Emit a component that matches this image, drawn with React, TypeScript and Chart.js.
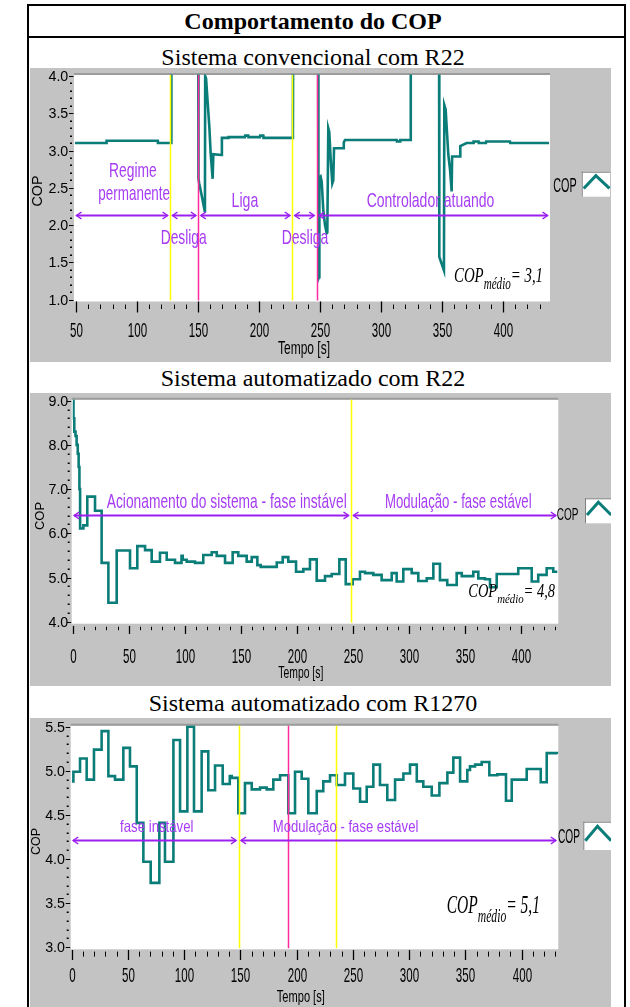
import React, { useEffect, useRef } from "react";
import { Chart, registerables } from "chart.js";

Chart.register(...registerables);

// ---------------- data ----------------
// Sistema convencional com R22 (values above 4.0 leave the plotted range)
const convTime = [49.2, 75, 75.1, 117, 117.2, 128, 128.2, 150.2, 150.4, 151.1, 153.0, 155.7, 155.9, 156.6, 157.6, 159.3, 160.4, 162.0, 162.6, 169.4, 169.6, 174.8, 175.0, 188.5, 188.7, 191.2, 191.4, 200.8, 201.0, 203.5, 203.7, 227.8, 228.0, 248.5, 248.7, 249.2, 249.5, 250.5, 251.4, 252.7, 254.1, 255.5, 256.0, 256.8, 257.6, 258.8, 260.1, 260.9, 261.5, 269.1, 269.5, 270.5, 312.9, 313.1, 315.6, 315.8, 324.2, 324.4, 347.6, 347.8, 351.6, 351.9, 353.0, 353.8, 355.2, 356.6, 357.9, 358.3, 364.8, 365.0, 370.2, 375.7, 375.9, 380.0, 380.2, 386.0, 386.2, 405.7, 405.9, 437.7];
const convCop = [3.10, 3.10, 3.13, 3.13, 3.10, 3.10, 4.5, 4.5, 2.62, 2.55, 2.40, 2.17, 4.0, 3.97, 3.73, 3.32, 2.96, 2.62, 2.95, 2.94, 3.17, 3.17, 3.18, 3.18, 3.20, 3.20, 3.18, 3.18, 3.20, 3.20, 3.17, 3.17, 4.5, 4.5, 1.28, 1.30, 2.63, 2.65, 2.58, 2.20, 2.00, 1.89, 1.90, 3.30, 3.25, 2.87, 2.56, 2.60, 3.03, 3.03, 3.11, 3.14, 3.14, 3.12, 3.12, 3.14, 3.14, 4.5, 4.5, 1.57, 1.39, 3.61, 3.55, 3.32, 2.94, 2.74, 2.45, 2.92, 2.92, 3.06, 3.10, 3.10, 3.12, 3.12, 3.10, 3.10, 3.12, 3.12, 3.10, 3.10];

// Sistema automatizado com R22 (step values: each holds until the next time)
const r22Time = [0, 0.7, 1.4, 2.5, 3.5, 4.5, 5.3, 6.0, 6.6, 9.5, 13.0, 19.9, 25.8, 31.8, 39.2, 51.1, 57.6, 64.5, 70.4, 77.8, 83.8, 91.2, 97.0, 98.1, 101.6, 109.0, 116.4, 123.9, 128.4, 135.8, 142.6, 147.6, 155.1, 159.6, 164.6, 167.6, 181.9, 187.2, 192.2, 199.1, 205.6, 211.5, 217.5, 224.9, 230.9, 237.7, 243.4, 249.6, 256.1, 260.6, 268.0, 275.4, 284.4, 288.8, 294.7, 302.2, 308.1, 315.6, 321.5, 327.4, 333.9, 342.3, 346.8, 357.1, 361.6, 367.5, 372.0, 378.0, 397.2, 409.2, 415.0, 422.5, 428.4, 432];
const r22Cop = [9.0, 8.6, 8.3, 8.2, 8.0, 7.8, 7.5, 7.0, 6.11, 6.18, 6.83, 6.51, 5.33, 4.43, 5.61, 5.21, 5.71, 5.62, 5.36, 5.56, 5.40, 5.33, 5.49, 5.40, 5.36, 5.33, 5.51, 5.57, 5.49, 5.33, 5.57, 5.49, 5.36, 5.46, 5.28, 5.24, 5.34, 5.46, 5.36, 5.13, 5.19, 5.41, 4.93, 5.03, 5.08, 5.41, 4.85, 4.96, 5.13, 5.10, 5.06, 4.94, 5.10, 4.91, 5.19, 5.10, 4.92, 4.98, 5.31, 4.94, 4.83, 5.10, 5.03, 5.13, 4.98, 4.96, 4.78, 5.08, 5.21, 4.91, 5.06, 5.21, 5.13, 5.13];

// Sistema automatizado com R1270 (step values)
const r1270Time = [0, 1.5, 7.4, 13.3, 19.8, 26.6, 32.6, 38.5, 45.9, 51.8, 57.8, 63.7, 70.2, 77.9, 82.9, 90.4, 96.3, 102.8, 108.7, 115.5, 121.4, 127.4, 134.2, 140.5, 142.2, 148.1, 154.0, 160.0, 167.4, 173.3, 179.2, 185.2, 192.5, 198.5, 204.4, 210.3, 217.8, 223.6, 229.6, 235.6, 242.9, 250.3, 256.3, 262.2, 268.1, 274.0, 280.5, 287.4, 294.8, 300.7, 306.7, 312.5, 320.0, 326.8, 333.9, 339.2, 345.2, 351.6, 354.0, 358.5, 364.4, 371.2, 378.3, 386.0, 391.1, 404.4, 416.9, 422.2, 431.6];
const r1270Cop = [4.88, 4.99, 5.14, 4.90, 5.24, 5.45, 4.94, 4.90, 5.26, 5.05, 4.41, 3.97, 3.73, 4.41, 3.97, 5.35, 4.54, 5.50, 4.54, 5.22, 4.78, 5.06, 4.85, 4.94, 4.92, 4.52, 4.86, 4.79, 4.81, 4.79, 4.90, 4.95, 4.52, 4.99, 4.91, 4.52, 4.77, 4.88, 4.95, 4.84, 4.97, 4.80, 4.65, 4.82, 5.07, 4.84, 4.67, 4.90, 4.97, 5.07, 4.88, 4.82, 4.72, 4.86, 4.98, 5.15, 4.88, 5.01, 5.05, 5.07, 5.10, 4.95, 4.96, 4.66, 4.90, 5.02, 4.87, 5.20, 5.19];

const convXTicks = [50, 100, 150, 200, 250, 300, 350, 400];
const convYTicks = [1.0, 1.5, 2.0, 2.5, 3.0, 3.5, 4.0];
const autoXTicks = [0, 50, 100, 150, 200, 250, 300, 350, 400];
const r22YTicks = [4, 5, 6, 7, 8, 9];
const r1270YTicks = [3.0, 3.5, 4.0, 4.5, 5.0, 5.5];

const convYellow = [127.1, 227.3];
const convMagenta = [150.3, 247.3];
const r22Yellow = [248.1];
const r1270Yellow = [148.3, 235.3];
const r1270Magenta = [192.5];

const convPhases = ["Regime", "permanente", "Desliga", "Liga", "Desliga", "Controlador atuando"];
const r22Phases = ["Acionamento do sistema - fase instável", "Modulação - fase estável"];
const r1270Phases = ["fase instável", "Modulação - fase estável"];

const copMedio = ["3,1", "4,8", "5,1"];
const titleText = "Comportamento do COP";
const subtitles = ["Sistema convencional com R22", "Sistema automatizado com R22", "Sistema automatizado com R1270"];

// ---------------- styles ----------------
const GRAY = "#c3c3c3";
const TEAL = "#0b7d79";
const YELLOW = "#ffff00";
const MAGENTA = "#ff2b9c";
const VIOLET = "#9b1ff0";
const VIOLET_TXT = "#a63cf4";
const SANS = '"Liberation Sans", Arial, sans-serif';
const SERIF = '"Liberation Serif", "Times New Roman", serif';

type Lbl = { text: string; t: number; c: number; w: number };
type PanelCfg = {
  key: string;
  canvas: { left: number; top: number; w: number; h: number };
  area: { l: number; t: number; r: number; b: number };
  xMin: number; xMax: number; yMin: number; yMax: number;
  xTicks: number[]; yTicks: number[]; xMinor: number; yMinor: number;
  time: number[]; cop: number[]; stepped: boolean;
  yLabelRight: number;
  xMajor: [number, number]; xMinorLen: [number, number]; xLabelBase: number;
  tempo: { cx: number; base: number; size: number; w: number };
  copTitle: { cx: number; cy: number; size: number; w: number };
  legend: { tx: number; tw: number; base: number; size: number; bx: number; by: number; bw: number; bh: number };
  medio: { x: number; base: number; size: number; w: number; value: string };
  yellow: number[]; magenta: number[];
  arrowLevel: number; arrowStops: number[];
  labels: Lbl[]; labelSize: number;
};

const PANELS: PanelCfg[] = [
  {
    key: "conv",
    canvas: { left: 30, top: 68, w: 581, h: 294 },
    area: { l: 75, t: 76, r: 549, b: 299.5 },
    xMin: 49.2, xMax: 437.7, yMin: 1, yMax: 4,
    xTicks: convXTicks, yTicks: convYTicks, xMinor: 10, yMinor: 0.1,
    time: convTime, cop: convCop, stepped: false,
    yLabelRight: 68.3,
    xMajor: [2, 13], xMinorLen: [5, 9.5], xLabelBase: 37,
    tempo: { cx: 304, base: 354, size: 19, w: 52 },
    copTitle: { cx: 38.3, cy: 191, size: 14, w: 31 },
    legend: { tx: 553.3, tw: 23.4, base: 191.7, size: 21, bx: 581.7, by: 171.7, bw: 28.3, bh: 25 },
    medio: { x: 454, base: 281.7, size: 22, w: 89, value: copMedio[0] },
    yellow: convYellow, magenta: convMagenta,
    arrowLevel: 2.134, arrowStops: [127.1, 150.3, 227.3, 247.3],
    labels: [
      { text: convPhases[0], t: 96.7, c: 2.648, w: 47.7 },
      { text: convPhases[1], t: 97.7, c: 2.336, w: 71.7 },
      { text: convPhases[2], t: 138.3, c: 1.745, w: 46 },
      { text: convPhases[3], t: 188.5, c: 2.246, w: 26.7 },
      { text: convPhases[4], t: 237.7, c: 1.745, w: 46.7 },
      { text: convPhases[5], t: 340.6, c: 2.238, w: 127.7 },
    ],
    labelSize: 21,
  },
  {
    key: "r22",
    canvas: { left: 30, top: 393, w: 581, h: 293 },
    area: { l: 72.7, t: 400.7, r: 557.3, b: 621.7 },
    xMin: 0, xMax: 432, yMin: 4, yMax: 9,
    xTicks: autoXTicks, yTicks: r22YTicks, xMinor: 10, yMinor: 0.2,
    time: r22Time, cop: r22Cop, stepped: true,
    yLabelRight: 68.3,
    xMajor: [4.3, 12.3], xMinorLen: [5, 8.5], xLabelBase: 41.6,
    tempo: { cx: 300.8, base: 678, size: 17, w: 45 },
    copTitle: { cx: 40, cy: 516, size: 13, w: 28 },
    legend: { tx: 556.7, tw: 21.7, base: 520, size: 17, bx: 585, by: 498.3, bw: 26.7, bh: 25 },
    medio: { x: 468.3, base: 596.7, size: 18, w: 86.7, value: copMedio[1] },
    yellow: r22Yellow, magenta: [],
    arrowLevel: 6.414, arrowStops: [248.1],
    labels: [
      { text: r22Phases[0], t: 137.3, c: 6.566, w: 240 },
      { text: r22Phases[1], t: 343.7, c: 6.566, w: 146.7 },
    ],
    labelSize: 21,
  },
  {
    key: "r1270",
    canvas: { left: 30, top: 718, w: 581, h: 289 },
    area: { l: 71.7, t: 726.7, r: 557.3, b: 947.3 },
    xMin: 0, xMax: 431.6, yMin: 3, yMax: 5.5,
    xTicks: autoXTicks, yTicks: r1270YTicks, xMinor: 10, yMinor: 0.1,
    time: r1270Time, cop: r1270Cop, stepped: true,
    yLabelRight: 65,
    xMajor: [2.7, 12.7], xMinorLen: [4.3, 9.3], xLabelBase: 34.4,
    tempo: { cx: 300.8, base: 1002, size: 17, w: 48 },
    copTitle: { cx: 36.7, cy: 841.5, size: 13, w: 27 },
    legend: { tx: 558, tw: 22, base: 843, size: 20, bx: 583.3, by: 821.7, bw: 28.3, bh: 28.3 },
    medio: { x: 446.7, base: 913.3, size: 25, w: 93.3, value: copMedio[2] },
    yellow: r1270Yellow, magenta: r1270Magenta,
    arrowLevel: 4.216, arrowStops: [148.3],
    labels: [
      { text: r1270Phases[0], t: 75.6, c: 4.31, w: 73.3 },
      { text: r1270Phases[1], t: 243.4, c: 4.31, w: 145.6 },
    ],
    labelSize: 16.5,
  },
];

// ---------------- drawing helpers ----------------
function drawText(
  ctx: CanvasRenderingContext2D, s: string, x: number, y: number, font: string, color: string,
  align: CanvasTextAlign, sx: number, baseline: CanvasTextBaseline = "alphabetic", rot = 0
) {
  ctx.save();
  ctx.font = font;
  ctx.fillStyle = color;
  ctx.textAlign = align;
  ctx.textBaseline = baseline;
  ctx.translate(x, y);
  if (rot) ctx.rotate(rot);
  ctx.scale(sx, 1);
  ctx.fillText(s, 0, 0);
  ctx.restore();
}

function textWidth(ctx: CanvasRenderingContext2D, s: string, font: string) {
  ctx.save();
  ctx.font = font;
  const w = ctx.measureText(s).width;
  ctx.restore();
  return w;
}

function line(ctx: CanvasRenderingContext2D, x0: number, y0: number, x1: number, y1: number) {
  ctx.beginPath();
  ctx.moveTo(x0, y0);
  ctx.lineTo(x1, y1);
  ctx.stroke();
}

function makePlugin(p: PanelCfg) {
  const ox = p.canvas.left;
  const oy = p.canvas.top;
  return {
    id: "labview_" + p.key,
    beforeDraw(chart: any) {
      const { ctx, chartArea: a } = chart;
      ctx.save();
      ctx.fillStyle = GRAY;
      ctx.fillRect(0, 0, chart.width, chart.height);
      ctx.fillStyle = "#ffffff";
      ctx.fillRect(a.left - 1, a.top - 1, a.right - a.left + 2, a.bottom - a.top + 3);
      ctx.fillStyle = "#9c9c9c";
      ctx.fillRect(a.left - 1, a.top - 3, a.right - a.left + 2, 2);
      ctx.restore();
    },
    afterDatasetsDraw(chart: any) {
      const { ctx, chartArea: a, scales } = chart;
      const xs = scales.x;
      const ys = scales.y;
      ctx.save();
      const vline = (v: number, color: string) => {
        const px = Math.round(xs.getPixelForValue(v)) + 0.5;
        ctx.strokeStyle = color;
        ctx.lineWidth = 1.5;
        line(ctx, px, a.top - 1, px, a.bottom + 1);
      };
      p.yellow.forEach((v) => vline(v, YELLOW));
      p.magenta.forEach((v) => vline(v, MAGENTA));

      // phase arrows
      const ay = Math.round(ys.getPixelForValue(p.arrowLevel)) + 0.5;
      const stops = [xs.min, ...p.arrowStops, xs.max].map((v) => xs.getPixelForValue(v));
      ctx.strokeStyle = VIOLET;
      ctx.lineWidth = 2;
      for (let i = 0; i < stops.length - 1; i++) {
        const x0 = stops[i] + (i === 0 ? 1.5 : 2.5);
        const x1 = stops[i + 1] - (i === stops.length - 2 ? 1.5 : 2.5);
        line(ctx, x0, ay, x1, ay);
        ctx.lineWidth = 1.5;
        ctx.beginPath();
        ctx.moveTo(x0 + 5, ay - 3.5);
        ctx.lineTo(x0, ay);
        ctx.lineTo(x0 + 5, ay + 3.5);
        ctx.moveTo(x1 - 5, ay - 3.5);
        ctx.lineTo(x1, ay);
        ctx.lineTo(x1 - 5, ay + 3.5);
        ctx.stroke();
        ctx.lineWidth = 2;
      }

      // phase labels
      const font = `${p.labelSize}px ${SANS}`;
      p.labels.forEach((l) => {
        const sx = l.w / textWidth(ctx, l.text, font);
        drawText(ctx, l.text, xs.getPixelForValue(l.t), ys.getPixelForValue(l.c), font, VIOLET_TXT, "center", sx);
      });
      ctx.restore();
    },
    afterDraw(chart: any) {
      const { ctx, chartArea: a, scales } = chart;
      const xs = scales.x;
      const ys = scales.y;
      const L = a.left;
      const B = a.bottom;
      ctx.save();
      ctx.strokeStyle = "#000";
      ctx.fillStyle = "#000";
      ctx.lineWidth = 1;

      // y axis ticks + labels
      const yFont = `15px ${SANS}`;
      const isMajorY = (v: number) => ys.ticks.some((t: any) => Math.abs(t.value - v) < 1e-6);
      ys.ticks.forEach((t: any) => {
        const py = Math.round(ys.getPixelForValue(t.value)) + 0.5;
        line(ctx, L - 6, py, L - 1.5, py);
        drawText(ctx, t.value.toFixed(1), p.yLabelRight - ox, py + 0.5, yFont, "#000", "right", 0.95, "middle");
      });
      for (let i = Math.ceil(ys.min / p.yMinor - 1e-6); i * p.yMinor <= ys.max + 1e-6; i++) {
        const v = i * p.yMinor;
        if (isMajorY(v)) continue;
        const py = Math.round(ys.getPixelForValue(v));
        ctx.fillRect(L - 5, py - 0.5, 2, 1.5);
      }

      // x axis ticks + labels
      const xFont = `21px ${SANS}`;
      const isMajorX = (v: number) => xs.ticks.some((t: any) => Math.abs(t.value - v) < 1e-6);
      xs.ticks.forEach((t: any) => {
        const px = Math.round(xs.getPixelForValue(t.value)) + 0.5;
        ctx.lineWidth = 1.3;
        line(ctx, px, B + p.xMajor[0], px, B + p.xMajor[1]);
        drawText(ctx, String(t.value), px, B + p.xLabelBase, xFont, "#000", "center", 0.55);
      });
      ctx.lineWidth = 1;
      for (let i = Math.ceil(xs.min / p.xMinor - 1e-6); i * p.xMinor <= xs.max + 1e-6; i++) {
        const v = i * p.xMinor;
        if (isMajorX(v)) continue;
        const px = Math.round(xs.getPixelForValue(v)) + 0.5;
        line(ctx, px, B + p.xMinorLen[0], px, B + p.xMinorLen[1]);
      }

      // axis titles
      const tf = `${p.tempo.size}px ${SANS}`;
      drawText(ctx, "Tempo [s]", p.tempo.cx - ox, p.tempo.base - oy, tf, "#000", "center", p.tempo.w / textWidth(ctx, "Tempo [s]", tf));
      const cf = `${p.copTitle.size}px ${SANS}`;
      drawText(ctx, "COP", p.copTitle.cx - ox, p.copTitle.cy - oy, cf, "#000", "center", p.copTitle.w / textWidth(ctx, "COP", cf), "middle", -Math.PI / 2);

      // legend
      const lg = p.legend;
      const lf = `${lg.size}px ${SANS}`;
      drawText(ctx, "COP", lg.tx - ox, lg.base - oy, lf, "#000", "left", lg.tw / textWidth(ctx, "COP", lf));
      const bx = lg.bx - ox;
      const by = lg.by - oy;
      ctx.fillStyle = "#ffffff";
      ctx.fillRect(bx, by, lg.bw, lg.bh);
      ctx.fillStyle = "#7d7d7d";
      ctx.fillRect(bx, by, lg.bw, 1);
      ctx.fillRect(bx, by, 1, lg.bh);
      ctx.strokeStyle = TEAL;
      ctx.lineWidth = 3;
      ctx.lineJoin = "miter";
      ctx.beginPath();
      ctx.moveTo(bx + 2, by + lg.bh * 0.67);
      ctx.lineTo(bx + lg.bw * 0.5, by + lg.bh * 0.16);
      ctx.lineTo(bx + lg.bw - 0.5, by + lg.bh * 0.67);
      ctx.stroke();

      // COP médio annotation
      const m = p.medio;
      const f1 = `italic ${m.size}px ${SERIF}`;
      const f2 = `italic ${m.size * 0.75}px ${SERIF}`;
      const rest = "= " + m.value;
      const w1 = textWidth(ctx, "COP", f1);
      const w2 = textWidth(ctx, "médio", f2);
      const w3 = textWidth(ctx, rest, f1);
      const sx = m.w / (w1 + w2 + w3);
      let cx = m.x - ox;
      const base = m.base - oy;
      drawText(ctx, "COP", cx, base, f1, "#000", "left", sx);
      cx += w1 * sx;
      drawText(ctx, "médio", cx, base + m.size * 0.33, f2, "#000", "left", sx);
      cx += w2 * sx;
      drawText(ctx, rest, cx, base, f1, "#000", "left", sx);
      ctx.restore();
    },
  };
}

function Panel({ p }: { p: PanelCfg }) {
  const ref = useRef<HTMLCanvasElement>(null);
  useEffect(() => {
    const canvas = ref.current;
    if (!canvas) return;
    const chart = new Chart(canvas, {
      type: "line",
      data: {
        datasets: [
          {
            data: p.time.map((t, i) => ({ x: t, y: p.cop[i] })),
            borderColor: TEAL,
            borderWidth: 2.6,
            pointRadius: 0,
            tension: 0,
            fill: false,
            stepped: p.stepped,
            clip: { left: 0, top: 1.5, right: 1, bottom: 1.5 },
          } as any,
        ],
      },
      options: {
        animation: false,
        responsive: false,
        maintainAspectRatio: false,
        devicePixelRatio: 1,
        events: [],
        layout: {
          padding: {
            left: 0,
            top: p.area.t - p.canvas.top,
            right: p.canvas.left + p.canvas.w - p.area.r,
            bottom: 0,
          },
        },
        plugins: { legend: { display: false }, tooltip: { enabled: false }, title: { display: false } },
        scales: {
          x: {
            type: "linear",
            min: p.xMin,
            max: p.xMax,
            afterBuildTicks: (s: any) => {
              s.ticks = p.xTicks.map((v) => ({ value: v }));
            },
            afterFit: (s: any) => {
              s.height = p.canvas.top + p.canvas.h - p.area.b;
              s.paddingLeft = s.paddingRight = s.paddingTop = s.paddingBottom = 0;
            },
            grid: { display: false },
            border: { display: false },
            ticks: { display: false },
          },
          y: {
            type: "linear",
            min: p.yMin,
            max: p.yMax,
            afterBuildTicks: (s: any) => {
              s.ticks = p.yTicks.map((v) => ({ value: v }));
            },
            afterFit: (s: any) => {
              s.width = p.area.l - p.canvas.left;
              s.paddingLeft = s.paddingRight = s.paddingTop = s.paddingBottom = 0;
            },
            grid: { display: false },
            border: { display: false },
            ticks: { display: false },
          },
        },
      } as any,
      plugins: [makePlugin(p) as any],
    });
    return () => chart.destroy();
  }, [p]);
  return (
    <canvas
      ref={ref}
      width={p.canvas.w}
      height={p.canvas.h}
      style={{ position: "absolute", left: p.canvas.left, top: p.canvas.top, width: p.canvas.w, height: p.canvas.h }}
    />
  );
}

const textStyle = (top: number, bold: boolean): React.CSSProperties => ({
  position: "absolute",
  left: 0,
  width: 626,
  top,
  textAlign: "center",
  fontFamily: SERIF,
  fontSize: 24,
  lineHeight: "24px",
  fontWeight: bold ? "bold" : "normal",
  color: "#000",
  whiteSpace: "nowrap",
});

export default function App() {
  return (
    <div style={{ position: "absolute", left: 0, top: 0, width: 630, height: 1007, background: "#fff", overflow: "hidden" }}>
      <div style={{ position: "absolute", left: 27, top: 4, width: 599, height: 2, background: "#000" }} />
      <div style={{ position: "absolute", left: 27, top: 36, width: 599, height: 2, background: "#000" }} />
      <div style={{ position: "absolute", left: 27, top: 4, width: 2, height: 1003, background: "#000" }} />
      <div style={{ position: "absolute", left: 624, top: 4, width: 2, height: 1003, background: "#000" }} />
      <div style={textStyle(9, true)}>{titleText}</div>
      <div style={textStyle(45, false)}>{subtitles[0]}</div>
      <div style={textStyle(366, false)}>{subtitles[1]}</div>
      <div style={textStyle(691, false)}>{subtitles[2]}</div>
      {PANELS.map((p) => (
        <Panel key={p.key} p={p} />
      ))}
    </div>
  );
}
